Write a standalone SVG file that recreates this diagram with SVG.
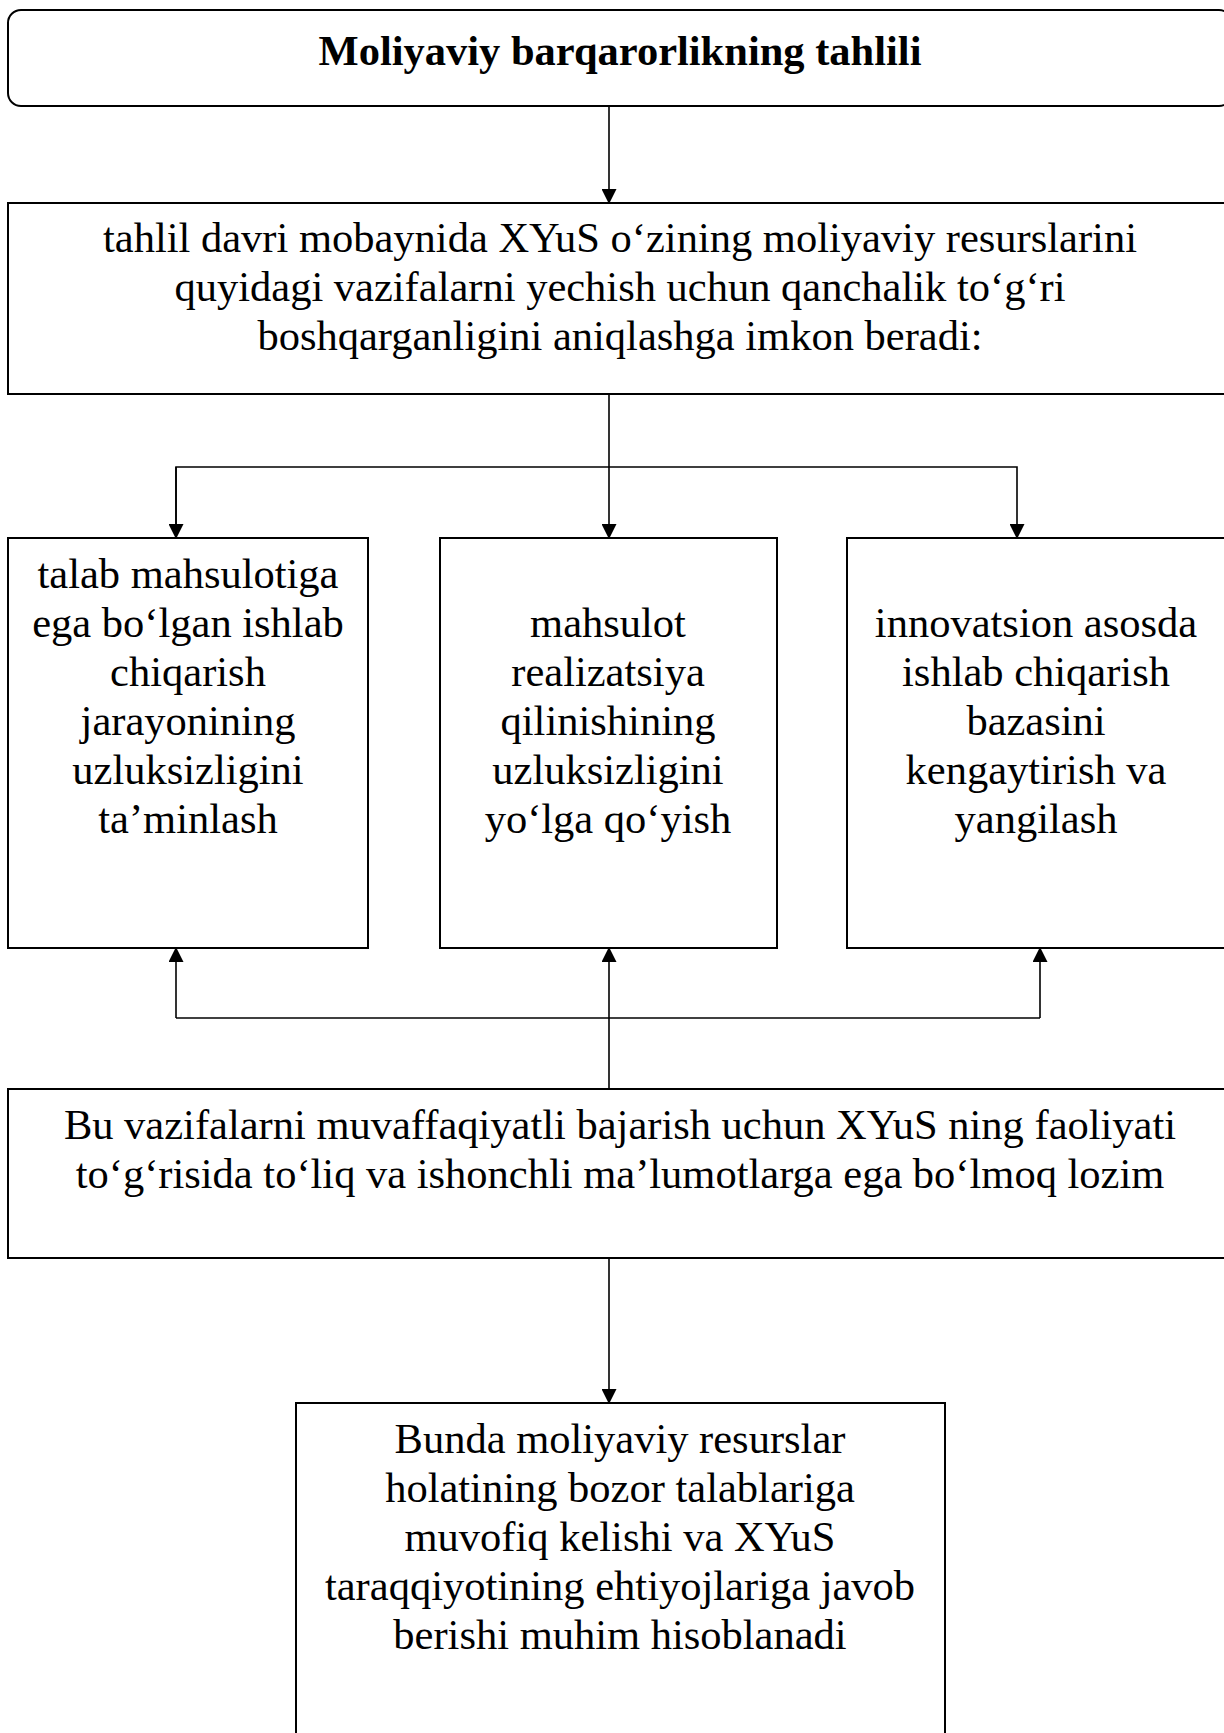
<svg xmlns="http://www.w3.org/2000/svg" width="1224" height="1733" viewBox="0 0 1224 1733">
<style>
.box{fill:#fff;stroke:#000;stroke-width:2}
.t{font-family:"Liberation Serif","Times New Roman",serif;font-size:42.5px;fill:#000;text-anchor:middle}
.b{font-weight:bold}
.c{fill:none;stroke:#000;stroke-width:1.6}
</style>
<defs>
<marker id="ah" markerWidth="15" markerHeight="15" refX="14" refY="7.5" orient="auto" markerUnits="userSpaceOnUse">
<path d="M0,0 L15,7.5 L0,15 Z" fill="#000"/>
</marker>
</defs>
<rect width="1224" height="1733" fill="#fff"/>
<g id="connectors">
<line class="c" x1="609" y1="106" x2="609" y2="203" marker-end="url(#ah)"/>
<line class="c" x1="609" y1="394" x2="609" y2="538" marker-end="url(#ah)"/>
<polyline class="c" points="176,538 176,467 1017,467 1017,538" marker-end="url(#ah)"/>
<line class="c" x1="176" y1="467" x2="176" y2="538" marker-end="url(#ah)"/>
<line class="c" x1="609" y1="1089" x2="609" y2="948" marker-end="url(#ah)"/>
<polyline class="c" points="176,1018 1040,1018"/>
<line class="c" x1="176" y1="1018" x2="176" y2="948" marker-end="url(#ah)"/>
<line class="c" x1="1040" y1="1018" x2="1040" y2="948" marker-end="url(#ah)"/>
<line class="c" x1="609" y1="1258" x2="609" y2="1403" marker-end="url(#ah)"/>
</g>
<g id="title">
<rect class="box" x="8" y="10" width="1224" height="96" rx="13" ry="13"/>
<text class="t b" x="620" y="65">Moliyaviy barqarorlikning tahlili</text>
</g>
<g id="intro">
<rect class="box" x="8" y="203" width="1224" height="191"/>
<text class="t" x="620" y="252">tahlil davri mobaynida XYuS o‘zining moliyaviy resurslarini</text>
<text class="t" x="620" y="301">quyidagi vazifalarni yechish uchun qanchalik to‘g‘ri</text>
<text class="t" x="620" y="350">boshqarganligini aniqlashga imkon beradi:</text>
</g>
<g id="task1">
<rect class="box" x="8" y="538" width="360" height="410"/>
<text class="t" x="188" y="588">talab mahsulotiga</text>
<text class="t" x="188" y="637">ega bo‘lgan ishlab</text>
<text class="t" x="188" y="686">chiqarish</text>
<text class="t" x="188" y="735">jarayonining</text>
<text class="t" x="188" y="784">uzluksizligini</text>
<text class="t" x="188" y="833">ta’minlash</text>
</g>
<g id="task2">
<rect class="box" x="440" y="538" width="337" height="410"/>
<text class="t" x="608" y="637">mahsulot</text>
<text class="t" x="608" y="686">realizatsiya</text>
<text class="t" x="608" y="735">qilinishining</text>
<text class="t" x="608" y="784">uzluksizligini</text>
<text class="t" x="608" y="833">yo‘lga qo‘yish</text>
</g>
<g id="task3">
<rect class="box" x="847" y="538" width="385" height="410"/>
<text class="t" x="1036" y="637">innovatsion asosda</text>
<text class="t" x="1036" y="686">ishlab chiqarish</text>
<text class="t" x="1036" y="735">bazasini</text>
<text class="t" x="1036" y="784">kengaytirish va</text>
<text class="t" x="1036" y="833">yangilash</text>
</g>
<g id="requirement">
<rect class="box" x="8" y="1089" width="1224" height="169"/>
<text class="t" x="620" y="1139">Bu vazifalarni muvaffaqiyatli bajarish uchun XYuS ning faoliyati</text>
<text class="t" x="620" y="1188">to‘g‘risida to‘liq va ishonchli ma’lumotlarga ega bo‘lmoq lozim</text>
</g>
<g id="conclusion">
<rect class="box" x="296" y="1403" width="649" height="340"/>
<text class="t" x="620" y="1453">Bunda moliyaviy resurslar</text>
<text class="t" x="620" y="1502">holatining bozor talablariga</text>
<text class="t" x="620" y="1551">muvofiq kelishi va XYuS</text>
<text class="t" x="620" y="1600">taraqqiyotining ehtiyojlariga javob</text>
<text class="t" x="620" y="1649">berishi muhim hisoblanadi</text>
</g>
</svg>
